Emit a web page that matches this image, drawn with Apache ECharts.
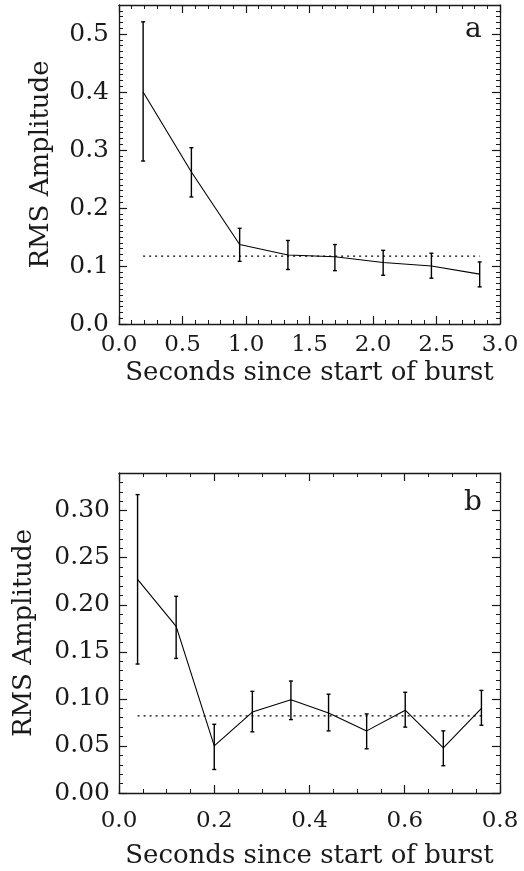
<!DOCTYPE html>
<html>
<head>
<meta charset="utf-8">
<script src="https://cdn.jsdelivr.net/npm/echarts@6/dist/echarts.min.js"></script>
<style>
  html, body { margin: 0; padding: 0; background: #fff; }
  #chart { width: 524px; height: 871px; }
</style>
</head>
<body>
<div id="chart"></div>
<script>
// panel a: 0 - 3 s
const aTime = [0.19, 0.57, 0.95, 1.33, 1.70, 2.08, 2.46, 2.84];
const aRms = [0.400, 0.262, 0.137, 0.119, 0.116, 0.106, 0.100, 0.086];
const aErrLow = [0.281, 0.219, 0.108, 0.094, 0.092, 0.084, 0.079, 0.064];
const aErrHigh = [0.521, 0.304, 0.165, 0.144, 0.137, 0.127, 0.122, 0.107];
const aMean = 0.117;
const aXTicks = [0, 0.5, 1.0, 1.5, 2.0, 2.5, 3.0];
const aYTicks = [0, 0.1, 0.2, 0.3, 0.4, 0.5];

// panel b: 0 - 0.8 s
const bTime = [0.039, 0.120, 0.200, 0.280, 0.361, 0.440, 0.520, 0.601, 0.681, 0.761];
const bRms = [0.227, 0.177, 0.050, 0.086, 0.099, 0.085, 0.066, 0.088, 0.048, 0.090];
const bErrLow = [0.137, 0.143, 0.025, 0.065, 0.078, 0.066, 0.047, 0.070, 0.029, 0.072];
const bErrHigh = [0.317, 0.209, 0.073, 0.108, 0.119, 0.105, 0.084, 0.107, 0.066, 0.109];
const bMean = 0.082;
const bXTicks = [0, 0.2, 0.4, 0.6, 0.8];
const bYTicks = [0, 0.05, 0.10, 0.15, 0.20, 0.25, 0.30];

const FONT = "DejaVu Serif";
const INK = "#1a1a1a";

// one axis = major ticks (+ labels on bottom/left); a second one on the same side gives the minor ticks
function majorAxis(grid, pos, min, max, ticks, showLabels, digits, labelSize, margin) {
  return {
    type: "value", gridIndex: grid, position: pos, min: min, max: max,
    axisLine: { show: true, onZero: false, lineStyle: { color: INK, width: 1.3 } },
    axisTick: { show: true, inside: true, length: 8, customValues: ticks, lineStyle: { color: INK, width: 1.2 } },
    axisLabel: {
      show: showLabels, customValues: ticks, margin: margin,
      fontFamily: FONT, fontSize: labelSize, color: INK,
      formatter: (v) => v.toFixed(digits),
    },
    splitLine: { show: false },
  };
}

function minorAxis(grid, pos, min, max, step) {
  return {
    type: "value", gridIndex: grid, position: pos, min: min, max: max, interval: step,
    axisLine: { show: false, onZero: false },
    axisTick: { show: true, inside: true, length: 4, lineStyle: { color: INK, width: 1 } },
    axisLabel: { show: false },
    splitLine: { show: false },
  };
}

const xAxes = [
  // grid 0
  Object.assign(majorAxis(0, "bottom", 0, 3, aXTicks, true, 1, 23, 10), {
    name: "Seconds since start of burst", nameLocation: "middle", nameGap: 36,
    nameTextStyle: { fontFamily: FONT, fontSize: 26, color: INK },
  }),
  majorAxis(0, "top", 0, 3, aXTicks, false, 1, 23, 8),
  minorAxis(0, "bottom", 0, 3, 0.1),
  minorAxis(0, "top", 0, 3, 0.1),
  // grid 1
  Object.assign(majorAxis(1, "bottom", 0, 0.8, bXTicks, true, 1, 23, 17), {
    name: "Seconds since start of burst", nameLocation: "middle", nameGap: 50,
    nameTextStyle: { fontFamily: FONT, fontSize: 26, color: INK },
  }),
  majorAxis(1, "top", 0, 0.8, bXTicks, false, 1, 23, 8),
  minorAxis(1, "bottom", 0, 0.8, 0.05),
  minorAxis(1, "top", 0, 0.8, 0.05),
];

const yAxes = [
  Object.assign(majorAxis(0, "left", 0, 0.55, aYTicks, true, 1, 25, 10), {
    name: "RMS Amplitude", nameLocation: "middle", nameGap: 65, nameRotate: 90,
    nameTextStyle: { fontFamily: FONT, fontSize: 26, color: INK },
  }),
  majorAxis(0, "right", 0, 0.55, aYTicks, false, 1, 25, 8),
  minorAxis(0, "left", 0, 0.55, 0.01),
  minorAxis(0, "right", 0, 0.55, 0.01),
  Object.assign(majorAxis(1, "left", 0, 0.34, bYTicks, true, 2, 25, 9), {
    name: "RMS Amplitude", nameLocation: "middle", nameGap: 82, nameRotate: 90,
    nameTextStyle: { fontFamily: FONT, fontSize: 26, color: INK },
  }),
  majorAxis(1, "right", 0, 0.34, bYTicks, false, 2, 25, 8),
  minorAxis(1, "left", 0, 0.34, 0.01),
  minorAxis(1, "right", 0, 0.34, 0.01),
];

function errorBars(xAxisIndex, yAxisIndex, xs, lo, hi) {
  return {
    type: "custom", xAxisIndex: xAxisIndex, yAxisIndex: yAxisIndex,
    data: xs.map((x, i) => [x, lo[i], hi[i]]),
    encode: { x: 0, y: [1, 2] },
    renderItem: function (params, api) {
      const top = api.coord([api.value(0), api.value(2)]);
      const bot = api.coord([api.value(0), api.value(1)]);
      const cap = 2;
      const style = { stroke: "#000", lineWidth: 1.4 };
      return {
        type: "group",
        children: [
          { type: "line", shape: { x1: top[0], y1: top[1], x2: bot[0], y2: bot[1] }, style: style },
          { type: "line", shape: { x1: top[0] - cap, y1: top[1], x2: top[0] + cap, y2: top[1] }, style: style },
          { type: "line", shape: { x1: bot[0] - cap, y1: bot[1], x2: bot[0] + cap, y2: bot[1] }, style: style },
        ],
      };
    },
    z: 3,
  };
}

function valueLine(xAxisIndex, yAxisIndex, xs, ys) {
  return {
    type: "line", xAxisIndex: xAxisIndex, yAxisIndex: yAxisIndex,
    data: xs.map((x, i) => [x, ys[i]]),
    showSymbol: false, symbol: "none",
    lineStyle: { color: "#000", width: 1.1 },
    animation: false, z: 4,
  };
}

function meanLine(xAxisIndex, yAxisIndex, xs, mean) {
  return {
    type: "line", xAxisIndex: xAxisIndex, yAxisIndex: yAxisIndex,
    data: [[xs[0], mean], [xs[xs.length - 1], mean]],
    showSymbol: false, symbol: "none",
    lineStyle: { color: "#000", width: 1.3, type: [2, 4] },
    animation: false, z: 2,
  };
}

const chart = echarts.init(document.getElementById("chart"), null, { renderer: "canvas" });
chart.setOption({
  animation: false,
  backgroundColor: "#fff",
  grid: [
    { left: 119, top: 5, width: 381, height: 319 },
    { left: 119, top: 473, width: 381, height: 320 },
  ],
  xAxis: xAxes,
  yAxis: yAxes,
  graphic: [
    { type: "text", left: 465, top: 16, style: { text: "a", font: "28px '" + FONT + "'", fill: INK } },
    { type: "text", left: 464, top: 489, style: { text: "b", font: "28px '" + FONT + "'", fill: INK } },
  ],
  series: [
    valueLine(0, 0, aTime, aRms),
    errorBars(0, 0, aTime, aErrLow, aErrHigh),
    meanLine(0, 0, aTime, aMean),
    valueLine(4, 4, bTime, bRms),
    errorBars(4, 4, bTime, bErrLow, bErrHigh),
    meanLine(4, 4, bTime, bMean),
  ],
});
</script>
</body>
</html>
